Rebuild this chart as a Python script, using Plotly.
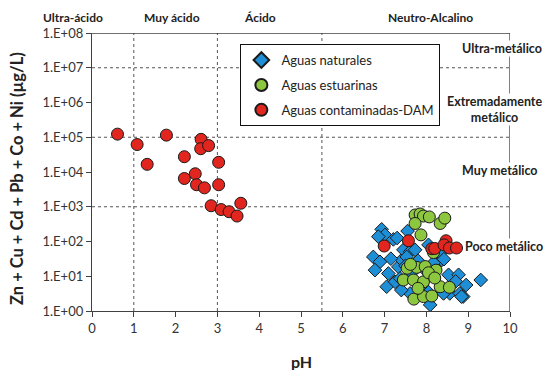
import math
import plotly.graph_objects as go

# ---- data ----
nat_ph = [6.93, 7.01, 7.21, 6.85, 6.73, 6.89, 6.77, 7.09, 7.05, 7.25, 7.33, 7.41, 7.45, 7.61, 7.73,
          7.53, 7.37, 7.61, 8.00, 8.09, 8.37, 8.33, 8.53, 8.77, 8.56, 8.80, 8.88, 8.95, 9.30, 8.17,
          8.42, 8.84, 8.41, 7.30, 7.50, 7.65, 7.80, 7.90, 8.05, 7.55, 7.40, 7.95, 7.15, 8.70]
nat_val = [224, 155, 115, 138, 36, 26, 15, 12, 5.0, 6.9, 18.6, 29.5, 57.5, 51, 57.5,
           36, 8.7, 3.2, 4.0, 1.5, 29.5, 46, 11, 11, 3.2, 3.2, 2.6, 5.6, 7.8, 24.5,
           31, 2.6, 3.2, 126, 20, 12.6, 28, 5.6, 80, 200, 4.0, 16, 32, 7.1]

est_ph = [7.73, 7.85, 7.93, 8.07, 8.33, 8.44, 7.73, 7.87, 8.17, 7.54, 7.77, 7.97, 8.23, 7.45,
          7.69, 7.93, 8.33, 8.55, 7.70, 7.93, 8.13, 7.62, 8.05, 7.80, 8.20]
est_val = [580, 620, 540, 510, 330, 470, 330, 155, 48, 17, 18, 19, 15, 7.8,
           7.8, 6.9, 5.0, 4.8, 2.2, 2.6, 2.7, 22, 12.6, 4.5, 8.9]

dam_ph = [0.61, 1.08, 1.32, 1.78, 2.61, 2.60, 2.79, 2.21, 3.03, 2.47, 2.21, 2.50, 2.69, 3.03,
          2.85, 3.09, 3.28, 3.47, 3.56, 6.99, 7.57, 8.13, 8.20, 8.47, 8.42, 8.55, 8.72]
dam_val = [123000, 61700, 16600, 115000, 87000, 46800, 57500, 27500, 19000, 8900, 6500, 4300,
           3500, 4300, 1070, 830, 720, 540, 1260, 74, 105, 62, 63, 105, 80, 65, 65]

x_ticks = list(range(0, 11))
y_tickvals = [1, 10, 100, 1e3, 1e4, 1e5, 1e6, 1e7, 1e8]
y_ticktext = ["1.E+00", "1.E+01", "1.E+02", "1.E+03", "1.E+04", "1.E+05", "1.E+06", "1.E+07", "1.E+08"]

ph_classes = ["Ultra-ácido", "Muy ácido", "Ácido", "Neutro-Alcalino"]
ph_class_x = [-0.45, 1.92, 4.02, 8.1]
metal_classes = ["Ultra-metálico", "Extremadamente<br>metálico", "Muy metálico", "Poco metálico"]
metal_class_y = [3.5e7, 6.5e5, 1.07e4, 74]
metal_class_x = [9.8, 9.64, 9.77, 8.9]
h_grid = [1e7, 1e5, 1e3]
v_grid = [1, 3, 5.5]

FONT = "Lato, 'Open Sans', sans-serif"
AX = "#404040"

fig = go.Figure()
fig.add_trace(go.Scatter(x=nat_ph, y=nat_val, mode="markers", name="Aguas naturales",
                         legendgroup="a",
                         marker=dict(symbol="diamond", size=10.5, color="#1E8FD6",
                                     line=dict(color="#1a1a1a", width=1))))
fig.add_trace(go.Scatter(x=est_ph, y=est_val, mode="markers", name="Aguas estuarinas",
                         legendgroup="b",
                         marker=dict(symbol="circle", size=12, color="#8DC63F",
                                     line=dict(color="#1a1a1a", width=1))))
fig.add_trace(go.Scatter(x=dam_ph, y=dam_val, mode="markers", name="Aguas contaminadas-DAM",
                         legendgroup="c",
                         marker=dict(symbol="circle", size=12, color="#E0261F",
                                     line=dict(color="#1a1a1a", width=1))))

shapes = []
for g in h_grid:
    shapes.append(dict(type="line", xref="x", yref="y", x0=0, x1=10, y0=g, y1=g,
                       line=dict(color="#555", width=1, dash="dot"), layer="below"))
for g in v_grid:
    shapes.append(dict(type="line", xref="x", yref="y", x0=g, x1=g, y0=1, y1=1e8,
                       line=dict(color="#555", width=1, dash="dot"), layer="below"))
shapes.append(dict(type="line", xref="x", yref="y", x0=0, x1=10, y0=1e8, y1=1e8,
                   line=dict(color=AX, width=1.3), layer="below"))
shapes.append(dict(type="line", xref="x", yref="y", x0=10, x1=10, y0=1, y1=1e8,
                   line=dict(color=AX, width=1.3), layer="below"))
fig.update_layout(shapes=shapes)

for t, xx in zip(ph_classes, ph_class_x):
    fig.add_annotation(x=xx / 10.0, y=1.0, xref="paper", yref="paper", yanchor="bottom",
                       xanchor="center", yshift=6, text=f"<b>{t}</b>", showarrow=False,
                       font=dict(family=FONT, size=12, color="#222"))
for t, yy, xx in zip(metal_classes, metal_class_y, metal_class_x):
    xanc = "left" if t == "Poco metálico" else "center"
    fig.add_annotation(x=xx, y=math.log10(yy), xref="x", yref="y", xanchor=xanc,
                       yanchor="middle", text=f"<b>{t}</b>", showarrow=False, bgcolor="white",
                       borderpad=0,
                       font=dict(family=FONT, size=12.5, color="#222"))

# axis titles as annotations so they do not shrink the plot area
fig.add_annotation(x=0.5, y=0, xref="paper", yref="paper", yanchor="middle", xanchor="center",
                   yshift=-50, text="<b>pH</b>", showarrow=False,
                   font=dict(family=FONT, size=16, color="#222"))
fig.add_annotation(x=0, y=0.475, xref="paper", yref="paper", yanchor="middle", xanchor="center",
                   xshift=-75, textangle=-90,
                   text="<b>Zn + Cu + Cd + Pb + Co + Ni (µg/L)</b>", showarrow=False,
                   font=dict(family=FONT, size=16.5, color="#222"))

fig.update_layout(
    width=544, height=370,
    margin=dict(l=92, r=34, t=33, b=59),
    paper_bgcolor="white", plot_bgcolor="white",
    font=dict(family=FONT, size=12, color="#333"),
    showlegend=True,
    legend=dict(x=0.355, y=0.96, xanchor="left", yanchor="top",
                bgcolor="white", bordercolor="#111", borderwidth=1,
                font=dict(family=FONT, size=13, color="#222"),
                itemsizing="constant", tracegroupgap=5),
    xaxis=dict(range=[0, 10], tickvals=x_ticks, showgrid=False, zeroline=False,
               showline=True, linecolor=AX, linewidth=1.3, ticks="outside", ticklen=5,
               tickcolor=AX, tickfont=dict(family=FONT, size=13, color="#333"),
               automargin=False),
    yaxis=dict(type="log", range=[0, 8], tickvals=y_tickvals, ticktext=y_ticktext,
               showgrid=False, zeroline=False, showline=True, linecolor=AX, linewidth=1.3,
               ticks="outside", ticklen=5, tickcolor=AX, automargin=False,
               tickfont=dict(family=FONT, size=13, color="#333")),
)

fig.write_html("out.html")
